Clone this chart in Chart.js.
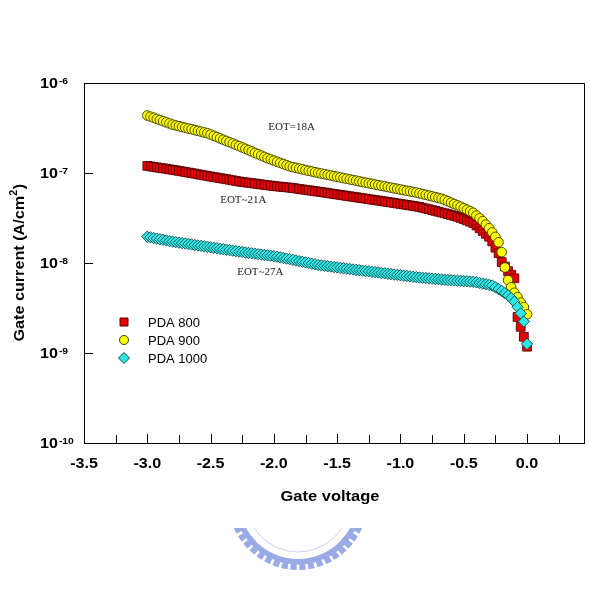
<!DOCTYPE html>
<html>
<head>
<meta charset="utf-8">
<title>Gate current vs gate voltage</title>
<script src="https://cdn.jsdelivr.net/npm/chart.js@4.4.1/dist/chart.umd.min.js"></script>
<style>
  body { margin: 0; background: #fff; }
  canvas { display: block; }
</style>
</head>
<body>
<canvas id="myChart" width="612" height="596"></canvas>
<script>
// gate voltage (V), one reading every 25 mV
const voltages = [
  -3.000, -2.975, -2.950, -2.925, -2.900, -2.875, -2.850, -2.825, -2.800,
  -2.775, -2.750, -2.725, -2.700, -2.675, -2.650, -2.625, -2.600, -2.575, -2.550, -2.525,
  -2.500, -2.475, -2.450, -2.425, -2.400, -2.375, -2.350, -2.325, -2.300, -2.275,
  -2.250, -2.225, -2.200, -2.175, -2.150, -2.125, -2.100, -2.075, -2.050,
  -2.025, -2.000, -1.975, -1.950, -1.925, -1.900, -1.875,
  -1.850, -1.825, -1.800, -1.775, -1.750, -1.725, -1.700, -1.675, -1.650,
  -1.625, -1.600, -1.575, -1.550, -1.525, -1.500, -1.475, -1.450, -1.425, -1.400,
  -1.375, -1.350, -1.325, -1.300, -1.275, -1.250, -1.225, -1.200, -1.175, -1.150, -1.125,
  -1.100, -1.075, -1.050, -1.025, -1.000, -0.975, -0.950, -0.925, -0.900, -0.875,
  -0.850, -0.825, -0.800, -0.775, -0.750, -0.725, -0.700, -0.675,
  -0.650, -0.625, -0.600, -0.575, -0.550, -0.525,
  -0.500, -0.475, -0.450, -0.425,
  -0.400, -0.375, -0.350,
  -0.325, -0.300, -0.275,
  -0.250, -0.225, -0.200, -0.175, -0.150, -0.125, -0.100, -0.075, -0.050, -0.025, 0.000
];

// log10 of gate current density (A/cm2)
const logJ800 = [
  -6.921, -6.926, -6.932, -6.937, -6.943, -6.948, -6.953, -6.959, -6.964,
  -6.970, -6.976, -6.982, -6.989, -6.995, -7.001, -7.007, -7.014, -7.020, -7.026, -7.032,
  -7.039, -7.045, -7.051, -7.057, -7.063, -7.069, -7.075, -7.081, -7.088, -7.094,
  -7.099, -7.104, -7.108, -7.113, -7.117, -7.122, -7.127, -7.131, -7.136,
  -7.140, -7.145, -7.149, -7.152, -7.156, -7.159, -7.163,
  -7.167, -7.172, -7.177, -7.182, -7.187, -7.192, -7.197, -7.202, -7.207,
  -7.212, -7.217, -7.222, -7.228, -7.233, -7.238, -7.243, -7.248, -7.254, -7.259,
  -7.264, -7.269, -7.275, -7.280, -7.285, -7.291, -7.296, -7.301, -7.306, -7.312, -7.317,
  -7.322, -7.327, -7.333, -7.338, -7.344, -7.349, -7.354, -7.360, -7.365, -7.371,
  -7.377, -7.386, -7.395, -7.403, -7.412, -7.421, -7.430, -7.439,
  -7.448, -7.457, -7.467, -7.476, -7.486, -7.499,
  -7.513, -7.527, -7.541, -7.555,
  -7.583, -7.614, -7.645,
  -7.676, -7.708, -7.760,
  -7.83, -7.89, -7.99, -8.04, -8.09, -8.13, -8.17, -8.60, -8.71, -8.82, -8.93
];
const logJ900 = [
  -6.361, -6.374, -6.386, -6.399, -6.412, -6.424, -6.437, -6.449, -6.462,
  -6.471, -6.480, -6.488, -6.497, -6.506, -6.514, -6.523, -6.532, -6.540, -6.549, -6.558,
  -6.572, -6.587, -6.601, -6.615, -6.630, -6.644, -6.658, -6.672, -6.687, -6.701,
  -6.716, -6.731, -6.746, -6.761, -6.776, -6.791, -6.806, -6.821, -6.836,
  -6.849, -6.862, -6.875, -6.888, -6.900, -6.913, -6.926,
  -6.935, -6.943, -6.951, -6.959, -6.967, -6.975, -6.983, -6.991, -6.999,
  -7.006, -7.013, -7.020, -7.028, -7.035, -7.042, -7.049, -7.057, -7.064, -7.071,
  -7.078, -7.085, -7.093, -7.100, -7.107, -7.114, -7.121, -7.128, -7.135, -7.142, -7.149,
  -7.156, -7.163, -7.170, -7.176, -7.183, -7.190, -7.197, -7.204, -7.211, -7.217,
  -7.225, -7.234, -7.242, -7.251, -7.260, -7.268, -7.277, -7.286,
  -7.299, -7.314, -7.329, -7.344, -7.359, -7.374,
  -7.391, -7.408, -7.425, -7.442,
  -7.472, -7.503, -7.535,
  -7.573, -7.613, -7.660,
  -7.71, -7.77, -7.88, -8.05, -8.19, -8.27, -8.33, -8.38, -8.44, -8.49, -8.57
];
const logJ1000 = [
  -7.708, -7.715, -7.722, -7.729, -7.736, -7.742, -7.749, -7.756, -7.763,
  -7.768, -7.774, -7.779, -7.784, -7.789, -7.794, -7.800, -7.805, -7.810, -7.815, -7.820,
  -7.826, -7.831, -7.836, -7.842, -7.847, -7.852, -7.857, -7.863, -7.868, -7.873,
  -7.878, -7.883, -7.887, -7.892, -7.896, -7.901, -7.906, -7.910, -7.915,
  -7.919, -7.924, -7.931, -7.937, -7.944, -7.951, -7.957,
  -7.965, -7.972, -7.979, -7.986, -7.993, -8.000, -8.008, -8.015, -8.022,
  -8.027, -8.031, -8.036, -8.040, -8.045, -8.049, -8.054, -8.058, -8.063, -8.067,
  -8.072, -8.076, -8.080, -8.085, -8.089, -8.093, -8.098, -8.102, -8.106, -8.111, -8.115,
  -8.119, -8.123, -8.128, -8.132, -8.136, -8.140, -8.144, -8.148, -8.153, -8.157,
  -8.161, -8.164, -8.167, -8.171, -8.174, -8.177, -8.180, -8.184,
  -8.186, -8.189, -8.191, -8.194, -8.196, -8.198,
  -8.201, -8.203, -8.206, -8.208,
  -8.215, -8.222, -8.229,
  -8.236, -8.243, -8.250,
  -8.27, -8.29, -8.31, -8.335, -8.36, -8.39, -8.43, -8.49, -8.56, -8.65, -8.90
];

const seriesNames = ["PDA 800", "PDA 900", "PDA 1000"];
const xTicks = [-3.5, -3.0, -2.5, -2.0, -1.5, -1.0, -0.5, 0.0];
const xMinorTicks = [-3.25, -2.75, -2.25, -1.75, -1.25, -0.75, -0.25, 0.25];
const yExponents = [-6, -7, -8, -9, -10];
const notes = [
  { text: "EOT=18A", x: -2.044, y: 3.0e-7 },
  { text: "EOT~21A", x: -2.424, y: 4.65e-8 },
  { text: "EOT~27A", x: -2.29, y: 7.3e-9 }
];

function toPoints(logs) {
  return voltages.map((v, i) => ({ x: v, y: Math.pow(10, logs[i]) }));
}

// text stretched sideways like the original figure
function wideText(ctx, text, x, y, sx, align) {
  ctx.save();
  ctx.translate(x, y);
  ctx.scale(sx, 1);
  ctx.textAlign = align;
  ctx.fillText(text, 0, 0);
  ctx.restore();
}

function drawMarker(ctx, kind, x, y, fill, stroke) {
  ctx.save();
  ctx.fillStyle = fill;
  ctx.strokeStyle = stroke;
  ctx.lineWidth = 1;
  ctx.beginPath();
  if (kind === "rect") {
    ctx.rect(x - 4, y - 4, 8, 8);
  } else if (kind === "circle") {
    ctx.arc(x, y, 4.5, 0, Math.PI * 2);
  } else {
    ctx.moveTo(x - 5.5, y); ctx.lineTo(x, y - 5.5); ctx.lineTo(x + 5.5, y); ctx.lineTo(x, y + 5.5);
    ctx.closePath();
  }
  ctx.fill();
  ctx.stroke();
  ctx.restore();
}

const styles = [
  { kind: "rect", pointStyle: "rect", radius: 6.2, fill: "#e80000", stroke: "#5a0000" },
  { kind: "circle", pointStyle: "circle", radius: 4.8, fill: "#ffff00", stroke: "#3a3a00" },
  { kind: "diamond", pointStyle: "rectRot", radius: 5.7, fill: "#2ee8e8", stroke: "#164848" }
];

const decor = {
  id: "decor",
  beforeDraw(chart) {
    // faint university watermark under the x title
    const ctx = chart.ctx;
    const cx = 298, cy = 500;
    ctx.save();
    ctx.beginPath();
    ctx.rect(200, 528, 200, 50);
    ctx.clip();
    ctx.fillStyle = "rgba(135,155,225,0.85)";
    ctx.beginPath();
    ctx.arc(cx, cy, 70, 0, Math.PI * 2);
    ctx.arc(cx, cy, 59, 0, Math.PI * 2, true);
    ctx.fill();
    ctx.strokeStyle = "#fff";
    ctx.lineWidth = 2.6;
    for (let a = 0; a <= 180; a += 7.5) {
      const r = a * Math.PI / 180;
      ctx.beginPath();
      ctx.moveTo(cx + Math.cos(r) * 64.5, cy + Math.sin(r) * 64.5);
      ctx.lineTo(cx + Math.cos(r) * 72, cy + Math.sin(r) * 72);
      ctx.stroke();
    }
    ctx.strokeStyle = "rgba(150,165,225,0.5)";
    ctx.lineWidth = 1;
    ctx.beginPath();
    ctx.arc(cx, cy, 52, 0, Math.PI);
    ctx.stroke();
    ctx.restore();
  },
  afterDraw(chart) {
    const ctx = chart.ctx;
    const area = chart.chartArea;
    const xs = chart.scales.x;
    const ys = chart.scales.y;
    ctx.save();

    // frame
    ctx.strokeStyle = "#000";
    ctx.lineWidth = 1;
    ctx.strokeRect(Math.round(area.left) + 0.5, Math.round(area.top) + 0.5,
      Math.round(area.right - area.left), Math.round(area.bottom - area.top));

    // x ticks, pointing inwards
    xTicks.forEach(v => {
      const px = Math.round(xs.getPixelForValue(v)) + 0.5;
      ctx.beginPath(); ctx.moveTo(px, area.bottom); ctx.lineTo(px, area.bottom - 9); ctx.stroke();
    });
    xMinorTicks.forEach(v => {
      const px = Math.round(xs.getPixelForValue(v)) + 0.5;
      ctx.beginPath(); ctx.moveTo(px, area.bottom); ctx.lineTo(px, area.bottom - 8); ctx.stroke();
    });
    // y ticks
    yExponents.forEach(e => {
      if (e === -6 || e === -10) return;
      const py = Math.round(ys.getPixelForValue(Math.pow(10, e))) + 0.5;
      ctx.beginPath(); ctx.moveTo(area.left, py); ctx.lineTo(area.left + 9, py); ctx.stroke();
    });

    ctx.fillStyle = "#000";
    // x tick labels
    ctx.font = "bold 14px 'Liberation Sans', Arial, sans-serif";
    ctx.textBaseline = "middle";
    xTicks.forEach(v => {
      wideText(ctx, v.toFixed(1), xs.getPixelForValue(v), 464, 1.15, "center");
    });
    // y tick labels 10^n
    yExponents.forEach(e => {
      const py = ys.getPixelForValue(Math.pow(10, e));
      ctx.font = "bold 14px 'Liberation Sans', Arial, sans-serif";
      ctx.textBaseline = "middle";
      wideText(ctx, "10", 40, py + 1, 1.15, "left");
      const w = ctx.measureText("10").width * 1.15;
      ctx.font = "bold 9px 'Liberation Sans', Arial, sans-serif";
      ctx.textBaseline = "alphabetic";
      wideText(ctx, String(e), 41 + w, py + 0.5, 1.15, "left");
    });

    // axis titles
    ctx.font = "bold 15px 'Liberation Sans', Arial, sans-serif";
    ctx.textBaseline = "middle";
    wideText(ctx, "Gate voltage", 330, 497, 1.1, "center");

    ctx.save();
    ctx.translate(19, (area.top + area.bottom) / 2);
    ctx.rotate(-Math.PI / 2);
    const main = "Gate current (A/cm";
    ctx.font = "bold 15px 'Liberation Sans', Arial, sans-serif";
    const w1 = ctx.measureText(main).width * 1.08;
    const wClose = ctx.measureText(")").width * 1.08;
    ctx.font = "bold 10px 'Liberation Sans', Arial, sans-serif";
    const w2 = ctx.measureText("2").width * 1.08;
    const start = -(w1 + w2 + wClose) / 2;
    ctx.font = "bold 15px 'Liberation Sans', Arial, sans-serif";
    ctx.textBaseline = "middle";
    wideText(ctx, main, start, 1, 1.08, "left");
    ctx.font = "bold 10px 'Liberation Sans', Arial, sans-serif";
    wideText(ctx, "2", start + w1, -5, 1.08, "left");
    ctx.font = "bold 15px 'Liberation Sans', Arial, sans-serif";
    wideText(ctx, ")", start + w1 + w2 + 0.5, 1, 1.08, "left");
    ctx.restore();

    // legend inside the plot
    ctx.font = "13px 'Liberation Sans', Arial, sans-serif";
    ctx.textBaseline = "middle";
    ctx.textAlign = "left";
    seriesNames.forEach((name, i) => {
      const ly = 322 + i * 18;
      drawMarker(ctx, styles[i].kind, 124, ly, styles[i].fill, styles[i].stroke);
      ctx.fillStyle = "#000";
      ctx.fillText(name, 148, ly + 1);
    });

    // EOT notes
    ctx.font = "11px 'Liberation Serif', 'Times New Roman', serif";
    ctx.fillStyle = "#222";
    ctx.textAlign = "left";
    ctx.textBaseline = "alphabetic";
    notes.forEach(n => {
      ctx.fillText(n.text, xs.getPixelForValue(n.x), ys.getPixelForValue(n.y));
    });
    ctx.restore();
  }
};

const datasets = [logJ800, logJ900, logJ1000].map((logs, i) => ({
  label: seriesNames[i],
  data: toPoints(logs),
  showLine: false,
  pointStyle: styles[i].pointStyle,
  pointRadius: styles[i].radius,
  pointBackgroundColor: styles[i].fill,
  pointBorderColor: styles[i].stroke,
  pointBorderWidth: 0.9,
  order: 3 - i
}));

const config = {
  type: "scatter",
  data: { datasets },
  options: {
    responsive: false,
    animation: false,
    events: [],
    layout: { padding: { left: 84, top: 83, right: 28, bottom: 153 } },
    plugins: {
      legend: { display: false },
      tooltip: { enabled: false }
    },
    scales: {
      x: { type: "linear", min: -3.5, max: 0.45, display: false },
      y: { type: "logarithmic", min: 1e-10, max: 1e-6, display: false }
    }
  },
  plugins: [decor]
};

const myChart = new Chart(document.getElementById("myChart"), config);
</script>
</body>
</html>
